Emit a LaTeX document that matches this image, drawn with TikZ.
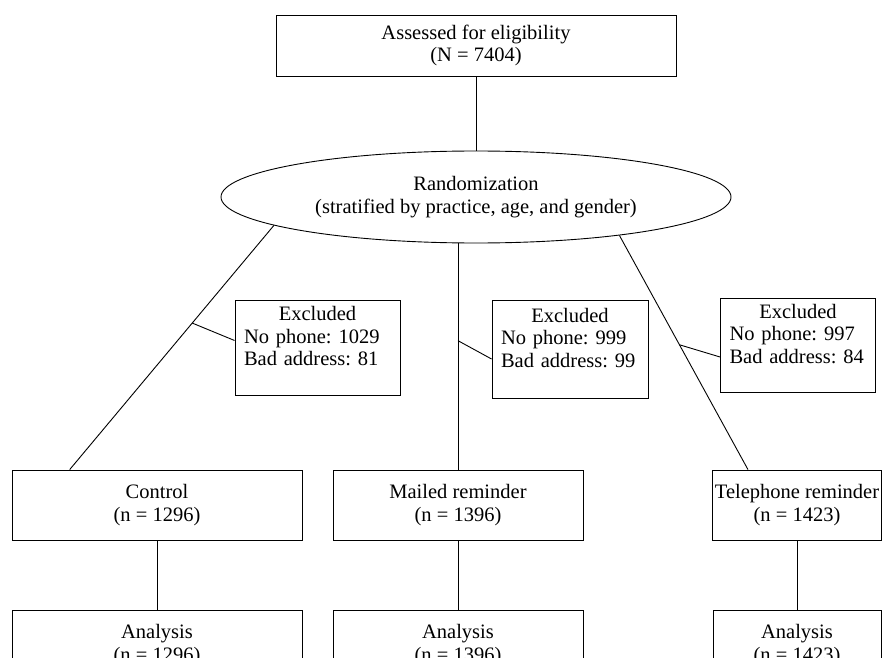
\documentclass[tikz,border=0pt]{standalone}
\usepackage{fontspec}
\setmainfont{Liberation Serif}
\frenchspacing
\usetikzlibrary{shapes.geometric, calc, positioning}

\tikzset{
  every node/.style={font=\fontsize{20.5}{22.5}\selectfont},
  flowbox/.style={draw, rectangle, align=center, inner sep=2pt},
  exclbox/.style={draw, rectangle, align=left, inner xsep=9pt, inner ysep=2pt},
  randell/.style={draw, ellipse, align=center, inner sep=0pt}
}

\begin{document}
\begin{tikzpicture}[x=1pt, y=-1pt, line width=0.9pt]

	\useasboundingbox (0,0) rectangle (895,658);

	% top and randomisation
	\node [flowbox, minimum width=400, minimum height=61] (elig) at (476,45.5)
		{Assessed for eligibility\\(N = 7404)};
	\node [randell, minimum width=510, minimum height=92] (rand) at (476,197)
		{Randomization\\(stratified by practice, age, and gender)};

	% excluded
	\node [exclbox, text width=147, minimum height=95] (ex1) at (317.5,347.5)
		{\makebox[\hsize]{Excluded}\\No phone: 1029\\Bad address: 81\\\mbox{}};
	\node [exclbox, text width=138, minimum height=98] (ex2) at (570,349)
		{\makebox[\hsize]{Excluded}\\No phone: 999\\Bad address: 99\\\mbox{}};
	\node [exclbox, text width=137, minimum height=94] (ex3) at (798,345)
		{\makebox[\hsize]{Excluded}\\No phone: 997\\Bad address: 84\\\mbox{}};

	% groups
	\node [flowbox, minimum width=290, minimum height=70] (ctl) at (157,505) {Control\\(n = 1296)};
	\node [flowbox, minimum width=250, minimum height=70] (mail) at (458,505) {Mailed reminder\\(n = 1396)};
	\node [flowbox, minimum width=168, minimum height=70] (tel) at (797,505) {Telephone reminder\\(n = 1423)};

	% analysis (cut by the page edge)
	\node [flowbox, minimum width=290, minimum height=70] (an1) at (157,645) {Analysis\\(n = 1296)};
	\node [flowbox, minimum width=250, minimum height=70] (an2) at (458,645) {Analysis\\(n = 1396)};
	\node [flowbox, minimum width=168, minimum height=70] (an3) at (797,645) {Analysis\\(n = 1423)};

	\coordinate (ctlin) at ($(ctl.north west)!0.2!(ctl.north east)$);
	\coordinate (telin) at ($(tel.north west)!0.21!(tel.north east)$);
	\coordinate (mailout) at (mail.north |- rand.south);

	\draw (elig.south) -- (rand.north);
	\draw (rand.188) -- (ctlin);
	\draw (mailout) -- (mail.north);
	\draw (rand.345) -- (telin);

	\coordinate (t1) at ($(rand.188)!0.4!(ctlin)$);
	\coordinate (t2) at ($(mailout)!0.43!(mail.north)$);
	\coordinate (t3) at ($(rand.345)!0.467!(telin)$);
	\draw (t1) -- ([yshift=7pt]ex1.west);
	\draw (t2) -- ([yshift=-10pt]ex2.west);
	\draw (t3) -- ([yshift=-12pt]ex3.west);

	\draw (ctl) -- (an1);
	\draw (mail) -- (an2);
	\draw (tel) -- (an3);

\end{tikzpicture}
\end{document}
